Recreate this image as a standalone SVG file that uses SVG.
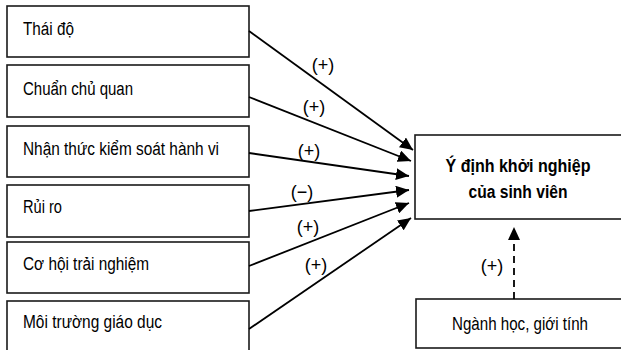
<svg xmlns="http://www.w3.org/2000/svg" width="621" height="350" viewBox="0 0 621 350">
<defs>
<style>
.box{fill:#fff;stroke:#1a1a1a;stroke-width:1.6}
.t{font-family:"Liberation Sans",Arial,sans-serif;font-size:18px;fill:#000}
.b{font-weight:bold}
.lbl{font-family:"Liberation Sans",Arial,sans-serif;font-size:18px;fill:#000;text-anchor:middle}
.ln{stroke:#000;stroke-width:1.8;fill:none;marker-end:url(#ah)}
.dash{stroke:#000;stroke-width:1.8;fill:none;stroke-dasharray:7,5;marker-end:url(#ah)}
</style>
<marker id="ah" markerUnits="userSpaceOnUse" markerWidth="14" markerHeight="12" refX="13" refY="6" orient="auto">
<path d="M0,0 L13,6 L0,12 Z" fill="#000"/>
</marker>
</defs>
<rect width="621" height="350" fill="#fff"/>
<g id="n1"><rect class="box" x="7" y="6" width="242" height="51"/><text class="t" x="23" y="35" textLength="51" lengthAdjust="spacingAndGlyphs">Thái độ</text></g>
<g id="n2"><rect class="box" x="7" y="65" width="242" height="52"/><text class="t" x="23" y="95" textLength="110" lengthAdjust="spacingAndGlyphs">Chuẩn chủ quan</text></g>
<g id="n3"><rect class="box" x="7" y="126" width="242" height="51"/><text class="t" x="23" y="155" textLength="196" lengthAdjust="spacingAndGlyphs">Nhận thức kiểm soát hành vi</text></g>
<g id="n4"><rect class="box" x="7" y="185" width="242" height="52"/><text class="t" x="23" y="213" textLength="39" lengthAdjust="spacingAndGlyphs">Rủi ro</text></g>
<g id="n5"><rect class="box" x="7" y="242" width="242" height="51"/><text class="t" x="23" y="270" textLength="126" lengthAdjust="spacingAndGlyphs">Cơ hội trải nghiệm</text></g>
<g id="n6"><rect class="box" x="7" y="301" width="242" height="60"/><text class="t" x="23" y="328" textLength="139" lengthAdjust="spacingAndGlyphs">Môi trường giáo dục</text></g>
<g id="target"><rect class="box" x="415" y="135" width="215" height="84"/><text class="t b" x="518" y="172" text-anchor="middle" textLength="145" lengthAdjust="spacingAndGlyphs">Ý định khởi nghiệp</text><text class="t b" x="518" y="198" text-anchor="middle" textLength="99" lengthAdjust="spacingAndGlyphs">của sinh viên</text></g>
<g id="ctrl"><rect class="box" x="416" y="299" width="215" height="49"/><text class="t" x="520" y="330" text-anchor="middle" textLength="136" lengthAdjust="spacingAndGlyphs">Ngành học, giới tính</text></g>
<g id="connectors">
<line class="ln" x1="249" y1="31" x2="413" y2="150"/>
<line class="ln" x1="249" y1="97" x2="411" y2="161"/>
<line class="ln" x1="249" y1="153" x2="409" y2="176"/>
<line class="ln" x1="249" y1="211" x2="409" y2="190"/>
<line class="ln" x1="249" y1="266" x2="409" y2="203"/>
<line class="ln" x1="249" y1="329" x2="411" y2="218"/>
<line class="dash" x1="514" y1="299" x2="514" y2="227"/>
<text class="lbl" x="323" y="71">(+)</text>
<text class="lbl" x="314" y="113">(+)</text>
<text class="lbl" x="309" y="157">(+)</text>
<text class="lbl" x="302" y="198">(−)</text>
<text class="lbl" x="308" y="233">(+)</text>
<text class="lbl" x="316" y="271">(+)</text>
<text class="lbl" x="492" y="272">(+)</text>
</g>
</svg>
